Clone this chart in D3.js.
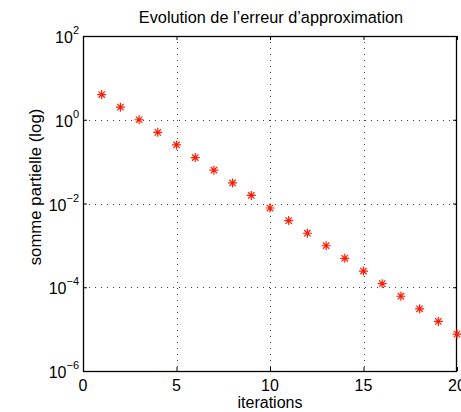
<!DOCTYPE html>
<html>
<head>
<meta charset="utf-8">
<script src="https://cdn.jsdelivr.net/npm/d3@7"></script>
<style>
  html, body { margin: 0; padding: 0; background: #fff; }
  svg { display: block; font-family: "Liberation Sans", Arial, Helvetica, sans-serif; }
</style>
</head>
<body>
<svg id="chart" width="461" height="412"></svg>
<script>
// Data
const iterations = [1, 2, 3, 4, 5, 6, 7, 8, 9, 10, 11, 12, 13, 14, 15, 16, 17, 18, 19, 20];
const partialSums = [4, 2, 1, 0.5, 0.25, 0.125, 0.0625, 0.031, 0.0156, 0.0078,
                     0.0039, 0.00195, 0.00098, 0.00049, 0.000244, 0.000122,
                     0.000061, 0.0000305, 0.0000153, 0.0000076];
const xTicks = [0, 5, 10, 15, 20];
const yTickExponents = [2, 0, -2, -4, -6];
const titleText = "Evolution de l\u2019erreur d\u2019approximation";
const xLabelText = "iterations";
const yLabelText = "somme partielle (log)";

const W = 461, H = 412;
const margin = { left: 83, right: 4, top: 36, bottom: 41 };
const x0 = margin.left, x1 = W - margin.right;
const y0 = H - margin.bottom, y1 = margin.top;

const svg = d3.select("#chart");

const x = d3.scaleLinear().domain([0, 20]).range([x0, x1]);
const y = d3.scaleLog().domain([1e-6, 1e2]).range([y0, y1]);

// Grid (dotted)
const grid = svg.append("g").attr("stroke", "#444").attr("stroke-width", 1)
  .attr("stroke-dasharray", "1,5").attr("shape-rendering", "crispEdges");
xTicks.filter(t => t > 0 && t < 20).forEach(t => {
  grid.append("line").attr("x1", Math.round(x(t)) + 0.5).attr("x2", Math.round(x(t)) + 0.5)
    .attr("y1", y1).attr("y2", y0);
});
yTickExponents.filter(e => e > -6 && e < 2).forEach(e => {
  const yy = Math.round(y(Math.pow(10, e))) + 0.5;
  grid.append("line").attr("x1", x0).attr("x2", x1).attr("y1", yy).attr("y2", yy);
});

// Axes via d3 axis (ticks inward)
const xAxisB = d3.axisBottom(x).tickValues(xTicks).tickSizeInner(-4).tickSizeOuter(0).tickFormat("");
const xAxisT = d3.axisTop(x).tickValues(xTicks).tickSizeInner(-4).tickSizeOuter(0).tickFormat("");
const yVals = yTickExponents.map(e => Math.pow(10, e));
const yAxisL = d3.axisLeft(y).tickValues(yVals).tickSizeInner(-4).tickSizeOuter(0).tickFormat("");
const yAxisR = d3.axisRight(y).tickValues(yVals).tickSizeInner(-4).tickSizeOuter(0).tickFormat("");

function styleAxis(g) {
  g.select(".domain").remove();
  g.selectAll("line").attr("stroke", "#000");
}
svg.append("g").attr("transform", `translate(0,${y0})`).call(xAxisB).call(styleAxis);
svg.append("g").attr("transform", `translate(0,${y1})`).call(xAxisT).call(styleAxis);
svg.append("g").attr("transform", `translate(${x0},0)`).call(yAxisL).call(styleAxis);
svg.append("g").attr("transform", `translate(${x1},0)`).call(yAxisR).call(styleAxis);

// Box
svg.append("rect").attr("x", x0 + 0.5).attr("y", y1 + 0.5)
  .attr("width", x1 - x0 - 1).attr("height", y0 - y1)
  .attr("fill", "none").attr("stroke", "#000").attr("stroke-width", 1.3);

// X tick labels
svg.append("g").selectAll("text").data(xTicks).join("text")
  .attr("x", d => x(d)).attr("y", y0 + 20)
  .attr("text-anchor", "middle").attr("font-size", 16).attr("fill", "#000")
  .text(d => d);

// Y tick labels: 10^e
const yl = svg.append("g").selectAll("text").data(yTickExponents).join("text")
  .attr("x", x0 - 4).attr("y", d => y(Math.pow(10, d)) + 7)
  .attr("text-anchor", "end").attr("font-size", 16).attr("fill", "#000");
yl.append("tspan").text("10");
yl.append("tspan").attr("dy", -9).attr("font-size", 11)
  .text(d => d < 0 ? "\u2212" + Math.abs(d) : String(d));

// Title and axis labels
svg.append("text").attr("x", (x0 + x1) / 2 + 1).attr("y", 23)
  .attr("text-anchor", "middle").attr("font-size", 16.3).attr("fill", "#000").text(titleText);
svg.append("text").attr("x", (x0 + x1) / 2).attr("y", 408)
  .attr("text-anchor", "middle").attr("font-size", 16).attr("fill", "#000").text(xLabelText);
svg.append("text").attr("transform", `translate(41,187) rotate(-90)`)
  .attr("text-anchor", "middle").attr("font-size", 16.8).attr("fill", "#000").text(yLabelText);

// Asterisk markers
const r = 4.5, rd = 3.2;
const star = `M${-r},0L${r},0M0,${-r}L0,${r}M${-rd},${-rd}L${rd},${rd}M${-rd},${rd}L${rd},${-rd}`;
svg.append("g").selectAll("path").data(iterations.map((it, i) => [it, partialSums[i]])).join("path")
  .attr("transform", d => `translate(${x(d[0])},${y(d[1])})`)
  .attr("d", star).attr("fill", "none").attr("stroke", "#ff1a00").attr("stroke-width", 1.2);
</script>
</body>
</html>
